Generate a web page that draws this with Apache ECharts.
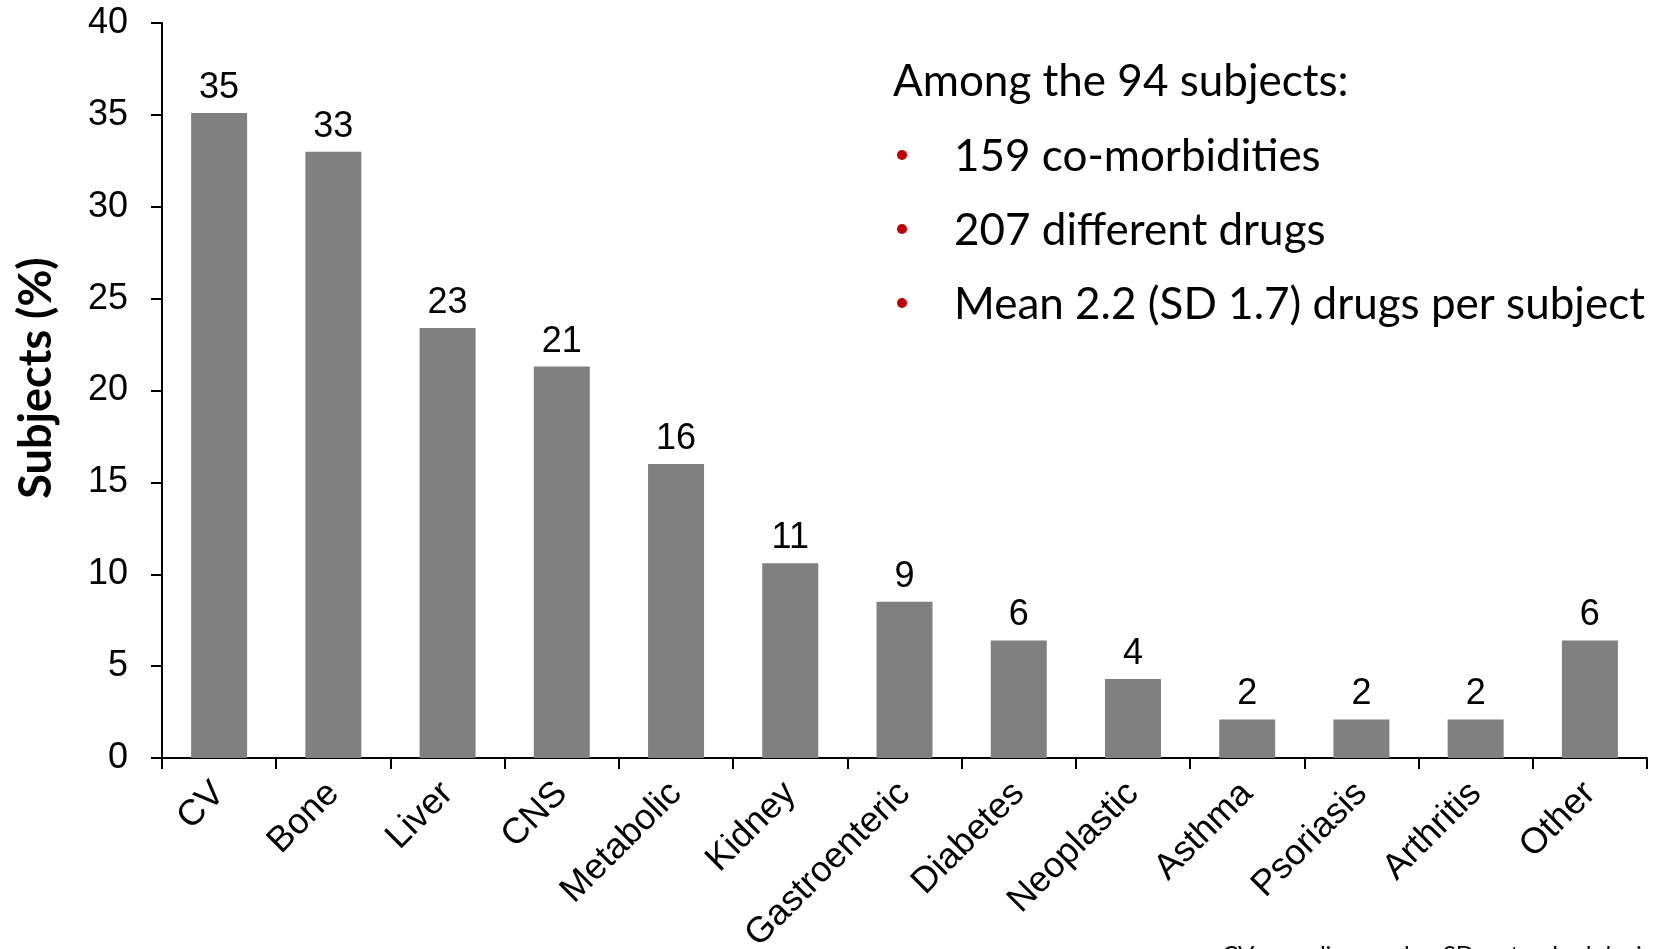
<!DOCTYPE html>
<html>
<head>
<meta charset="utf-8">
<script src="https://cdn.jsdelivr.net/npm/echarts@6/dist/echarts.min.js"></script>
<style>
  html, body { margin: 0; padding: 0; background: #fff; }
  #chart { width: 1654px; height: 949px; }
</style>
</head>
<body>
<div id="chart"></div>
<script>
// Co-morbidity categories and share of subjects (%) in each
const categories = ['CV', 'Bone', 'Liver', 'CNS', 'Metabolic', 'Kidney', 'Gastroenteric',
  'Diabetes', 'Neoplastic', 'Asthma', 'Psoriasis', 'Arthritis', 'Other'];
const subjectsPct = [35.1, 33.0, 23.4, 21.3, 16.0, 10.6, 8.5, 6.4, 4.3, 2.1, 2.1, 2.1, 6.4];

// Summary notes shown in the upper right
const summaryTitle = 'Among the 94 subjects:';
const summaryItems = ['159 co-morbidities', '207 different drugs', 'Mean 2.2 (SD 1.7) drugs per subject'];
const footnote = 'CV = cardiovascular; SD = standard deviation';
const yAxisTitle = 'Subjects (%)';

const yTicks = { min: 0, max: 40, interval: 5 };

const chart = echarts.init(document.getElementById('chart'), null, { renderer: 'canvas' });

const arial = '"Liberation Sans", Arial, sans-serif';
const calibriLike = 'Lato, "Noto Sans", sans-serif';

const graphics = [
  {
    type: 'text', left: 893, top: 60,
    style: { text: summaryTitle, font: '44px ' + calibriLike, fill: '#000' }
  },
  {
    type: 'text', x: 36, y: 378, rotation: Math.PI / 2,
    style: {
      text: yAxisTitle, font: 'bold 45px ' + calibriLike, fill: '#000',
      align: 'center', verticalAlign: 'middle'
    }
  }
];
summaryItems.forEach((t, i) => {
  const y = 135 + i * 74;
  graphics.push({
    type: 'circle', shape: { cx: 902, cy: y + 20, r: 5 },
    style: { fill: '#c00000' }
  });
  graphics.push({
    type: 'text', left: 954, top: y,
    style: { text: t, font: '44px ' + calibriLike, fill: '#000' }
  });
});
graphics.push({
  type: 'text', left: 1222, top: 943,
  style: { text: footnote, font: '24px ' + calibriLike, fill: '#000' }
});

chart.setOption({
  animation: false,
  backgroundColor: '#fff',
  grid: {
    left: 162, right: 7, top: 23, bottom: 191,
    containLabel: false, outerBoundsMode: 'none'
  },
  xAxis: {
    type: 'category',
    data: categories,
    boundaryGap: true,
    axisLine: { lineStyle: { color: '#000', width: 2 } },
    axisTick: { show: true, interval: 0, length: 11, alignWithLabel: false, lineStyle: { color: '#000', width: 2 } },
    axisLabel: {
      interval: 0, rotate: 45, margin: 30,
      fontFamily: arial, fontSize: 36, color: '#000'
    },
    splitLine: { show: false }
  },
  yAxis: {
    type: 'value',
    min: yTicks.min, max: yTicks.max, interval: yTicks.interval,
    axisLine: { show: true, lineStyle: { color: '#000', width: 2 } },
    axisTick: { show: true, length: 11, lineStyle: { color: '#000', width: 2 } },
    axisLabel: { margin: 34, fontFamily: arial, fontSize: 36, color: '#000' },
    splitLine: { show: false }
  },
  series: [{
    type: 'bar',
    data: subjectsPct,
    barWidth: 56,
    itemStyle: { color: '#808080' },
    label: {
      show: true, position: 'top', distance: 7,
      fontFamily: arial, fontSize: 36, color: '#000',
      formatter: p => String(Math.round(p.value))
    }
  }],
  graphic: graphics
});
</script>
</body>
</html>
